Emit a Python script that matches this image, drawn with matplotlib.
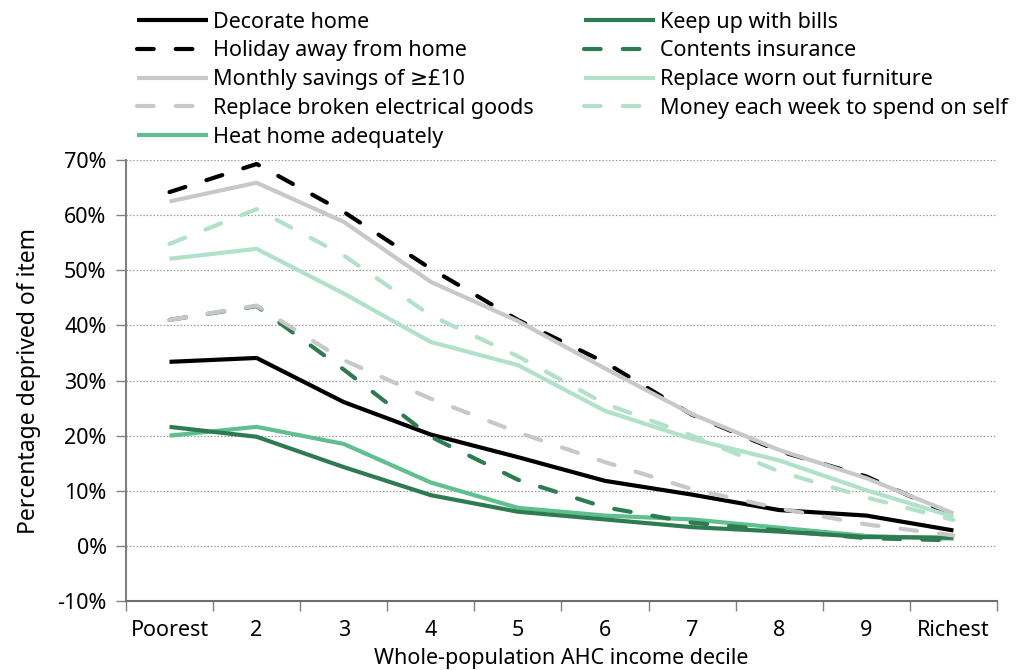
import numpy as np
import matplotlib
matplotlib.use("Agg")
import matplotlib.pyplot as plt

plt.rcParams['font.family'] = ['Noto Sans', 'DejaVu Sans']

deciles = ['Poorest', '2', '3', '4', '5', '6', '7', '8', '9', 'Richest']

decorate   = [33.4, 34.1, 26.1, 20.2, 16.1, 11.8, 9.3, 6.5, 5.5, 2.8]
holiday    = [64.2, 69.3, 60.6, 50.3, 41.0, 33.3, 23.8, 17.2, 12.6, 5.5]
savings    = [62.5, 65.9, 58.8, 47.9, 40.8, 32.2, 23.9, 17.4, 12.3, 5.9]
electrical = [41.0, 43.6, 33.7, 26.7, 20.6, 15.2, 10.3, 6.8, 3.9, 1.9]
heat       = [20.0, 21.6, 18.5, 11.5, 6.9, 5.5, 4.8, 3.3, 1.8, 1.3]
bills      = [21.6, 19.8, 14.3, 9.2, 6.2, 4.8, 3.4, 2.6, 1.6, 1.5]
contents   = [41.0, 43.5, 32.0, 19.8, 12.0, 7.0, 4.2, 2.8, 1.4, 1.0]
furniture  = [52.1, 53.9, 45.8, 37.0, 32.8, 24.5, 19.4, 15.5, 10.1, 5.3]
money_self = [54.8, 61.1, 52.7, 41.8, 34.4, 25.8, 20.0, 13.5, 8.8, 4.7]

black = '#000000'
grey = '#c8c8c8'
dkgreen = '#2e7b51'
green = '#5fbf8e'
ltgreen = '#b1e1c8'

series = [
    ('Decorate home', decorate, black, '-'),
    ('Holiday away from home', holiday, black, '--'),
    ('Monthly savings of \u2265\u00a310', savings, grey, '-'),
    ('Replace broken electrical goods', electrical, grey, '--'),
    ('Heat home adequately', heat, green, '-'),
    ('Keep up with bills', bills, dkgreen, '-'),
    ('Contents insurance', contents, dkgreen, '--'),
    ('Replace worn out furniture', furniture, ltgreen, '-'),
    ('Money each week to spend on self', money_self, ltgreen, '--'),
]
# grey dashed sits on top of contents insurance where they overlap
zorder = {'Contents insurance': 3, 'Replace broken electrical goods': 4}

fig = plt.figure(figsize=(10.3, 6.7), dpi=100)
ax = fig.add_axes([0.1223, 0.103, 0.8456, 0.658])

x = np.arange(len(deciles))
for name, vals, col, ls in series:
    kw = dict(color=col, lw=3.0, label=name, zorder=zorder.get(name, 3),
              solid_capstyle='butt')
    if ls == '--':
        kw.update(dashes=(4.0, 5.3), dash_capstyle='round')
    ax.plot(x, vals, **kw)

fs = 15.5
ax.set_xlim(-0.5, 9.5)
ax.set_ylim(-10, 70)
ax.set_yticks(np.arange(-10, 71, 10))
ax.set_yticklabels([f'{v}%' for v in range(-10, 71, 10)], fontsize=fs)
ax.set_xticks(x)
ax.set_xticklabels(deciles, fontsize=fs)
ax.set_xticks(np.arange(-0.5, 10, 1), minor=True)
ax.tick_params(axis='x', which='major', length=0, pad=14)
ax.tick_params(axis='x', which='minor', length=7, color='#808080', width=1)
ax.tick_params(axis='y', length=7, color='#808080', width=1, pad=7)

ax.grid(axis='y', color='#9a9a9a', linestyle=(0, (1.2, 1.5)), lw=0.9, zorder=0)
for s in ['top', 'right']:
    ax.spines[s].set_visible(False)
ax.spines['left'].set_color('#808080')
ax.spines['left'].set_linewidth(1.5)
ax.spines['bottom'].set_color('#6e6e6e')
ax.spines['bottom'].set_linewidth(1.5)

ax.set_ylabel('Percentage deprived of item', fontsize=16.5, labelpad=12)
ax.set_xlabel('Whole-population AHC income decile', fontsize=fs, labelpad=5)

ax.legend(loc='upper left', bbox_to_anchor=(0.0126, 1.337), ncol=2,
          frameon=False, fontsize=fs, borderpad=0, borderaxespad=0,
          handlelength=3.3, handletextpad=0.23, labelspacing=0.36,
          columnspacing=2.33)

fig.savefig('out.png', dpi=100)
